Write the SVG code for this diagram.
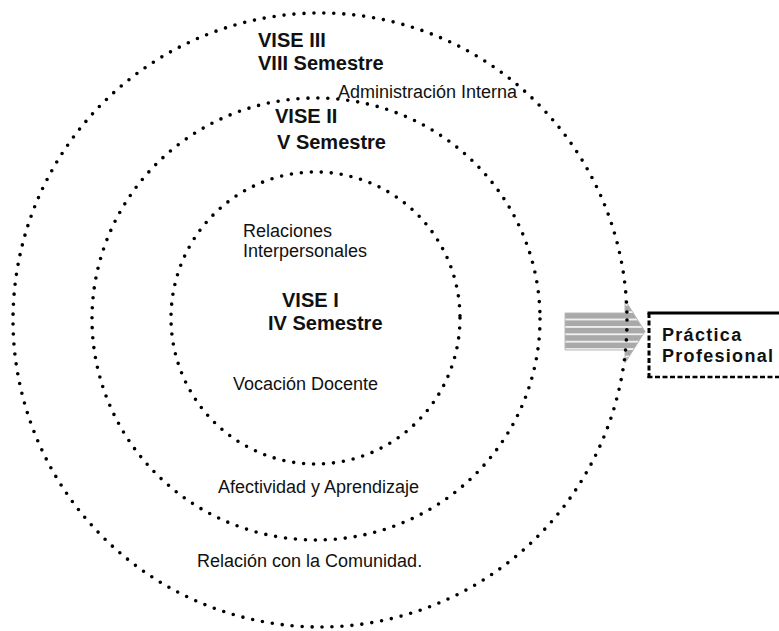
<svg xmlns="http://www.w3.org/2000/svg" width="779" height="631" viewBox="0 0 779 631">
<style>
.ring{fill:none;stroke:#000;stroke-width:3.6;stroke-linecap:round;stroke-dasharray:0 10}
.lbl{font-family:"Liberation Sans",Arial,sans-serif;font-size:18px;fill:#111}
.ttl{font-family:"Liberation Sans",Arial,sans-serif;font-size:20px;font-weight:bold;fill:#111}
.box{font-family:"Liberation Sans",Arial,sans-serif;font-size:18px;font-weight:bold;fill:#111;letter-spacing:1.3px}
</style>
<defs>
<pattern id="stripes" patternUnits="userSpaceOnUse" x="0" y="313" width="10" height="7.4">
<rect width="10" height="7.4" fill="#a9a9a9"/>
<rect y="5.6" width="10" height="1.8" fill="#f2f2f2"/>
</pattern>
</defs>
<rect width="779" height="631" fill="#fff"/>
<g id="arrow">
<polygon points="565,313 625,313 625,300 645,331.5 625,363 625,350 565,350" fill="url(#stripes)" stroke="#b8b8b8" stroke-width="1"/>
</g>
<g id="connectors">
<ellipse id="ring-outer" class="ring" cx="320" cy="320" rx="307" ry="307"/>
<ellipse id="ring-middle" class="ring" cx="316" cy="319" rx="224" ry="221"/>
<ellipse id="ring-inner" class="ring" cx="315.5" cy="318" rx="144.5" ry="146"/>
</g>
<g id="vise3">
<text class="ttl" x="258" y="47">VISE III</text>
<text class="ttl" x="258" y="70">VIII Semestre</text>
<text class="lbl" x="338" y="98">Administración Interna</text>
</g>
<g id="vise2">
<text class="ttl" x="275" y="123">VISE II</text>
<text class="ttl" x="277" y="149">V Semestre</text>
</g>
<g id="vise1">
<text class="lbl" x="243" y="237">Relaciones</text>
<text class="lbl" x="243" y="257">Interpersonales</text>
<text class="ttl" x="282" y="307">VISE I</text>
<text class="ttl" x="268" y="330">IV Semestre</text>
<text class="lbl" x="233" y="390">Vocación Docente</text>
</g>
<g id="bottom-labels">
<text class="lbl" x="218" y="493">Afectividad y Aprendizaje</text>
<text class="lbl" x="197" y="567">Relación con la Comunidad.</text>
</g>
<g id="practica">
<rect x="649" y="313" width="140" height="64" fill="#fff"/>
<line x1="647.5" y1="313" x2="779" y2="313" stroke="#000" stroke-width="3"/>
<line x1="649" y1="313" x2="649" y2="378" stroke="#000" stroke-width="3" stroke-dasharray="5 2.5"/>
<line x1="647.5" y1="377" x2="779" y2="377" stroke="#000" stroke-width="2.5" stroke-dasharray="5 2.5"/>
<text class="box" x="662" y="341">Práctica</text>
<text class="box" x="662" y="362">Profesional</text>
</g>
</svg>
